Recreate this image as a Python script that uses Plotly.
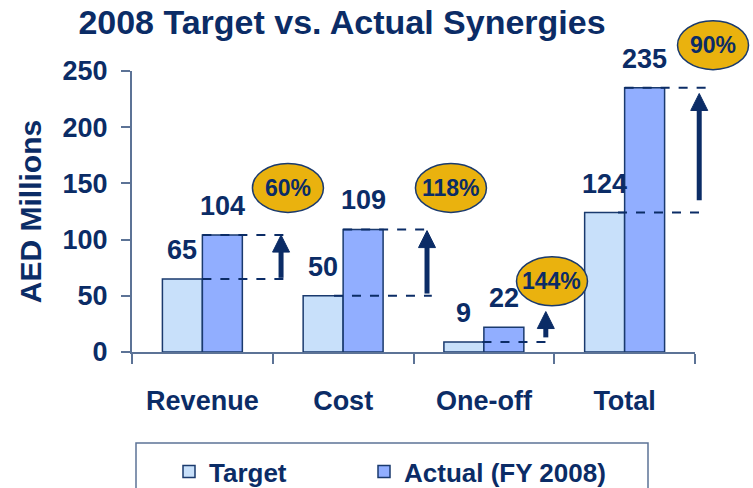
import plotly.graph_objects as go

# ---- data ----
categories = ["Revenue", "Cost", "One-off", "Total"]
target = [65, 50, 9, 124]
actual = [104, 109, 22, 235]
pct_labels = ["60%", "118%", "144%", "90%"]
y_ticks = [0, 50, 100, 150, 200, 250]

# ---- annotation geometry (offsets from category centre, data units) ----
arrow_dx = [0.559, 0.596, 0.44, 0.53]
arrow_lo = [66, 52, 13, 135]
arrow_hi = [104, 108, 36, 230]
dash_start_t = [0.0, -0.065, -0.01, -0.047]
dash_end_t = [0.623, 0.63, 0.45, 0.585]
dash_end_a = [0.623, 0.63, None, 0.62]
ell_dx = [0.608, 0.766, 0.484, 0.628]
ell_dy = [42, 37, 41, 38]

# ---- styles ----
NAVY = "#0B2C66"
EDGE = "#1A3A6E"
AXIS = "#5C7396"
C_T = "#C8E0FA"
C_A = "#91AEFF"
GOLD = "#EAB20E"
FONT = "Liberation Sans, Arial, sans-serif"

ML, MR, MT, MB = 132, 58, 71, 136
W, H = 753, 488
PW, PH = W - ML - MR, H - MT - MB
X0, X1 = -0.5, len(categories) - 0.5
Y0, Y1 = 0, 250


def xp(v):
    return (v - X0) / (X1 - X0)


def yp(v):
    return (v - Y0) / (Y1 - Y0)


def px_x(p):
    return (p - ML) / PW


def px_y(p):
    return (MT + PH - p) / PH


fig = go.Figure()
fig.add_trace(go.Bar(name="<b>Target</b>", x=categories, y=target, legend="legend", showlegend=True,
                     marker=dict(color=C_T, line=dict(color=EDGE, width=1.5))))
fig.add_trace(go.Bar(name="<b>Actual (FY 2008)</b>", x=categories, y=actual, legend="legend2", showlegend=True,
                     marker=dict(color=C_A, line=dict(color=EDGE, width=1.5))))

bargap = 0.432
half = (1 - bargap) / 4  # centre offset of each bar in data units

shapes = []
annotations = []
for i, cat in enumerate(categories):
    for val, dx in ((target[i], -half), (actual[i], half)):
        annotations.append(dict(x=i + dx, y=val, xref="x", yref="y", text=f"<b>{val}</b>",
                                showarrow=False, yanchor="bottom", yshift=12,
                                font=dict(size=27, color=NAVY, family=FONT)))
    shapes.append(dict(type="line", xref="paper", yref="paper",
                       x0=xp(i + dash_start_t[i]), x1=xp(i + dash_end_t[i]),
                       y0=yp(target[i]), y1=yp(target[i]),
                       line=dict(color=NAVY, width=2, dash="dash"), layer="above"))
    if dash_end_a[i] is not None:
        shapes.append(dict(type="line", xref="paper", yref="paper",
                           x0=xp(i), x1=xp(i + dash_end_a[i]),
                           y0=yp(actual[i]), y1=yp(actual[i]),
                           line=dict(color=NAVY, width=2, dash="dash"), layer="above"))
    ax = xp(i + arrow_dx[i])
    head_h = 17 / PH
    shapes.append(dict(type="line", xref="paper", yref="paper",
                       x0=ax, x1=ax, y0=yp(arrow_lo[i]), y1=yp(arrow_hi[i]) - head_h + 0.005,
                       line=dict(color=NAVY, width=5), layer="above"))
    shapes.append(dict(type="path", xref="paper", yref="paper",
                       xsizemode="pixel", ysizemode="pixel",
                       xanchor=ax, yanchor=yp(arrow_hi[i]),
                       path="M -8.5 -17 L 8.5 -17 L 0 0 Z",
                       fillcolor=NAVY, line=dict(color=NAVY, width=1), layer="above"))
    ex, ey = xp(i + ell_dx[i]), yp(actual[i] + ell_dy[i])
    shapes.append(dict(type="circle", xref="paper", yref="paper",
                       xsizemode="pixel", ysizemode="pixel", xanchor=ex, yanchor=ey,
                       x0=-35.5, x1=35.5, y0=-24.5, y1=24.5,
                       fillcolor=GOLD, line=dict(color=EDGE, width=1.5), layer="above"))
    annotations.append(dict(x=ex, y=ey, xref="paper", yref="paper", text=f"<b>{pct_labels[i]}</b>",
                            showarrow=False, xanchor="center", yanchor="middle",
                            font=dict(size=23, color=NAVY, family=FONT)))

# legend frame
shapes.append(dict(type="rect", xref="paper", yref="paper",
                   x0=px_x(136), x1=px_x(648), y0=px_y(443), y1=px_y(500),
                   line=dict(color=AXIS, width=1.5), fillcolor="rgba(0,0,0,0)"))

leg_common = dict(orientation="h", xanchor="left", yanchor="top", y=px_y(448), visible=True,
                  font=dict(size=26, color=NAVY, family=FONT),
                  bgcolor="rgba(0,0,0,0)", borderwidth=0)

fig.update_layout(
    width=W, height=H,
    showlegend=True,
    margin=dict(l=ML, r=MR, t=MT, b=MB, autoexpand=False),
    paper_bgcolor="white", plot_bgcolor="white",
    barmode="group", bargap=bargap, bargroupgap=0,
    font=dict(family=FONT, color=NAVY),
    title=dict(text="<b>2008 Target vs. Actual Synergies</b>", x=342 / W, xanchor="center",
               xref="container", yref="container", y=1 - 22 / H, yanchor="middle",
               font=dict(size=34, color=NAVY, family=FONT)),
    xaxis=dict(range=[X0, X1], tickvals=categories, ticktext=[f"<b>{c}</b>" for c in categories],
               showline=True, linecolor=AXIS, linewidth=2,
               ticks="outside", tickson="boundaries", ticklen=10, tickwidth=2, tickcolor=AXIS,
               tickfont=dict(size=27, color=NAVY, family=FONT), ticklabelstandoff=24,
               showgrid=False, zeroline=False, automargin=False),
    yaxis=dict(range=[Y0, Y1], tickvals=y_ticks, ticktext=[f"<b>{t}</b>" for t in y_ticks],
               showline=True, linecolor=AXIS, linewidth=2,
               ticks="outside", ticklen=9, tickwidth=2, tickcolor=AXIS,
               tickfont=dict(size=27, color=NAVY, family=FONT), ticklabelstandoff=8,
               title=dict(text="<b>AED Millions</b>", font=dict(size=30, color=NAVY, family=FONT), standoff=12),
               showgrid=False, zeroline=False, automargin=False),
    legend=dict(x=px_x(169), **leg_common),
    legend2=dict(x=px_x(364), **leg_common),
    shapes=shapes, annotations=annotations,
)

fig.write_html("out.html", config={"displayModeBar": False},
               post_script="document.body.style.margin='0px';document.body.style.overflow='hidden';")
